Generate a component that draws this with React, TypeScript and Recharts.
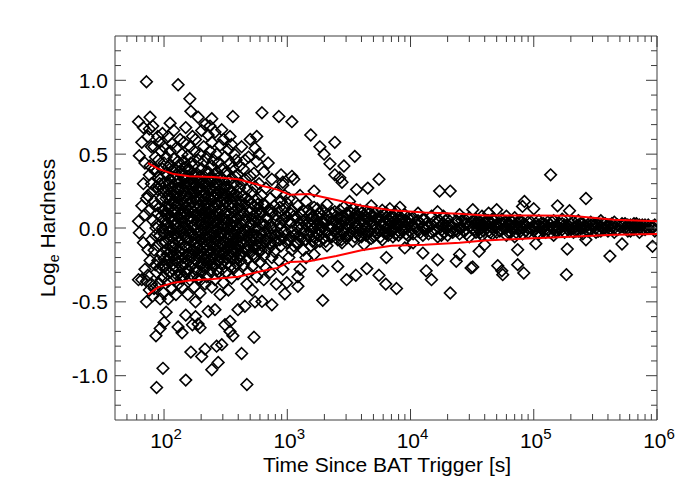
import React from 'react';
import { ScatterChart, Scatter, XAxis, YAxis } from 'recharts';

// ---- Data: [time (s), hardness values at about that time] ----
const earlyColumns: [number, number[]][] = [
  [62, [0.72, 0.045, -0.35]],
  [63, [-0.032, 0.49]],
  [66, [0.58, -0.35, 0.15]],
  [68, [0.68, -0.1, 0.3]],
  [70, [0.09, -0.28, 0.44]],
  [72, [0.99, -0.36, 0.2, -0.5]],
  [74, [-0.147, -0.32, 0.22, 0.62]],
  [76, [0.12, 0.67, -0.42, 0.36]],
  [77, [0.75, 0.42, -0.22]],
  [79, [0.3, -0.08, 0.55, -0.38]],
  [81, [0.69, -0.46, 0.05, 0.25]],
  [83, [0.55, -0.41, 0.18, -0.15, 0.4]],
  [85, [-0.25, 0.15, 0.48, -0.05]],
  [86, [-0.73, 0.38, 0.0]],
  [87, [-1.08, 0.02, -0.3, 0.28]],
  [89, [0.62, -0.12, 0.26, -0.22, 0.1]],
  [90, [-0.38, 0.46, 0.34]],
  [92, [-0.05, 0.14, 0.58, -0.27, 0.3]],
  [93, [-0.68, 0.33, -0.48]],
  [95, [0.08, 0.52, -0.18, 0.2, -0.35]],
  [97, [0.4, -0.1, 0.64, 0.0]],
  [98, [-0.95, -0.02, 0.27]],
  [99, [0.24, -0.44, 0.12, -0.25]],
];

const coreColumns: [number, number[]][] = [
  [100, [0.55, 0.31, 0.12, -0.04, -0.21, -0.33, 0.44, -0.64]],
  [104, [0.48, 0.2, 0.02, -0.15, -0.28, 0.37, -0.57, 0.09]],
  [108, [0.62, 0.26, -0.08, -0.36, 0.41, 0.15, -0.22, -0.48]],
  [112, [0.52, 0.33, 0.06, -0.12, -0.3, 0.19, -0.02, 0.43, 0.71]],
  [116, [0.57, 0.24, -0.06, -0.25, 0.39, 0.11, -0.41, 0.0]],
  [120, [0.47, 0.29, 0.16, -0.1, -0.19, -0.35, 0.05, 0.66]],
  [125, [0.54, 0.36, 0.21, 0.03, -0.14, -0.27, -0.45, 0.1]],
  [130, [0.97, 0.45, 0.27, 0.08, -0.06, -0.23, -0.67, 0.17, -0.38]],
  [135, [0.6, 0.31, 0.13, -0.01, -0.16, -0.3, 0.42, 0.22]],
  [140, [0.5, 0.38, 0.19, 0.04, -0.11, -0.26, -0.71, -0.4]],
  [145, [0.58, 0.25, 0.1, -0.04, -0.2, 0.33, -0.33, 0.45]],
  [150, [0.68, 0.41, 0.28, 0.14, -0.07, -0.24, -1.03, -0.59, 0.0]],
  [156, [0.49, 0.35, 0.2, 0.06, -0.13, -0.29, -0.45, 0.12]],
  [162, [0.875, 0.55, 0.3, 0.16, -0.02, -0.18, -0.35, 0.39, 0.08]],
  [165, [0.79, 0.44, 0.23, -0.09, -0.26, -0.84, 0.04]],
  [170, [0.62, 0.37, 0.18, 0.01, -0.15, -0.32, -0.655, 0.27, -0.05]],
  [176, [0.52, 0.3, 0.11, -0.07, -0.21, -0.4, 0.2, 0.43]],
  [180, [0.6, 0.34, 0.24, 0.09, -0.1, -0.28, -0.6, -0.5]],
  [189, [0.75, 0.46, 0.26, 0.13, -0.03, -0.17, -0.34, -0.65, 0.05]],
  [196, [0.5, 0.32, 0.19, 0.02, -0.12, -0.25, -0.675, -0.44]],
  [202, [0.66, 0.4, 0.22, 0.07, -0.08, -0.2, -0.87, 0.3, -0.3]],
  [210, [0.55, 0.35, 0.15, -0.01, -0.14, -0.27, 0.45, 0.1]],
  [215, [0.7, 0.28, 0.12, -0.05, -0.22, -0.82, -0.38, 0.2]],
  [222, [0.48, 0.31, 0.17, 0.03, -0.11, -0.19, -0.33]],
  [228, [0.63, 0.38, 0.21, 0.06, -0.07, -0.24, -0.565, 0.13]],
  [236, [0.52, 0.26, 0.1, -0.03, -0.16, -0.29, 0.34, 0.69]],
  [244, [0.58, 0.42, 0.19, 0.0, -0.1, -0.21, -0.96, -0.4, 0.74]],
  [252, [0.46, 0.29, 0.14, 0.04, -0.13, -0.26, 0.22]],
  [259, [0.65, 0.33, 0.08, -0.06, -0.18, -0.553, -0.35]],
  [267, [0.5, 0.24, 0.11, -0.02, -0.15, -0.8, 0.38]],
  [275, [0.44, 0.3, 0.16, 0.05, -0.09, -0.23, -0.91, -0.3]],
  [285, [0.56, 0.21, 0.07, -0.04, -0.2, -0.45, 0.35]],
  [294, [0.665, 0.4, 0.27, 0.12, -0.07, -0.12, -0.79, -0.28]],
  [303, [0.6, 0.32, 0.15, 0.02, -0.17, -0.37, 0.2]],
  [312, [0.48, 0.23, 0.06, -0.09, -0.22, -0.655, 0.37]],
  [322, [0.38, 0.18, 0.0, -0.14, -0.3, 0.28, 0.1]],
  [333, [0.53, 0.26, 0.09, -0.05, -0.19, -0.42]],
  [343, [0.62, 0.44, 0.2, 0.03, -0.11, -0.632, -0.7, -0.26]],
  [353, [0.565, 0.34, 0.14, -0.02, -0.16, 0.25, -0.34]],
  [362, [0.755, 0.41, 0.22, 0.07, -0.07, -0.21, -0.73]],
  [372, [0.3, 0.11, -0.04, -0.13, -0.27, 0.5]],
  [385, [0.46, 0.18, 0.02, -0.1, -0.24, 0.29]],
  [398, [0.36, 0.13, -0.01, -0.15, -0.553, -0.31]],
  [410, [0.27, 0.08, -0.06, -0.19, 0.42]],
];

// Extra points filling the dense black core
const coreFillColumns: [number, number[]][] = [
  [102, [0.25, -0.1, 0.05, -0.26]],
  [106, [0.36, 0.1, -0.18, 0.0]],
  [110, [0.3, -0.03, 0.13, -0.2, 0.22]],
  [114, [0.27, 0.08, -0.16, -0.06]],
  [118, [0.34, 0.18, -0.01, -0.13, -0.28]],
  [123, [0.4, 0.12, -0.05, -0.22, 0.24]],
  [128, [0.32, 0.0, 0.15, -0.18, -0.32]],
  [133, [0.25, 0.06, -0.09, -0.2, 0.38]],
  [138, [0.28, 0.1, -0.03, -0.14, -0.34]],
  [143, [0.35, 0.17, 0.0, -0.24, 0.07]],
  [148, [0.22, 0.04, -0.12, -0.3, 0.33]],
  [153, [0.3, 0.09, -0.02, -0.18, 0.18]],
  [159, [0.26, 0.11, -0.08, -0.22, 0.4]],
  [167, [0.33, 0.13, -0.03, -0.19, 0.07]],
  [173, [0.24, 0.06, -0.11, -0.24, 0.36]],
  [178, [0.29, 0.15, -0.01, -0.16, 0.02]],
  [184, [0.37, 0.2, 0.04, -0.13, -0.29]],
  [192, [0.27, 0.08, -0.06, -0.2, 0.15]],
  [199, [0.35, 0.12, -0.02, -0.16, -0.35]],
  [206, [0.26, 0.03, -0.1, 0.18, -0.24]],
  [212, [0.3, 0.07, -0.05, -0.18]],
  [219, [0.23, 0.1, -0.08, -0.27, 0.38]],
  [225, [0.28, 0.01, -0.15, 0.16]],
  [232, [0.2, 0.05, -0.1, -0.22, 0.32]],
  [240, [0.26, 0.12, -0.06, -0.18]],
  [248, [0.33, 0.07, -0.03, -0.2]],
  [256, [0.2, 0.01, -0.1, -0.24, 0.36]],
  [263, [0.16, 0.04, -0.08, 0.27]],
  [271, [0.22, -0.01, -0.12, -0.28]],
  [280, [0.25, 0.1, -0.06, -0.16]],
  [290, [0.18, 0.02, -0.1, -0.24]],
  [298, [0.23, 0.06, -0.03, -0.17]],
  [308, [0.1, -0.05, -0.13, 0.28]],
  [317, [0.17, 0.03, -0.1, -0.2]],
  [327, [0.22, 0.05, -0.07, -0.24]],
  [338, [0.15, -0.01, -0.12, 0.32]],
  [348, [0.1, -0.06, -0.2, 0.24]],
  [358, [0.17, 0.02, -0.1]],
  [367, [0.05, -0.09, 0.2, -0.18]],
  [378, [0.12, -0.02, -0.16, 0.35]],
  [392, [0.06, -0.07, 0.22, -0.2]],
  [404, [0.15, 0.0, -0.12]],
  [418, [0.03, -0.1, 0.18, -0.22]],
  [435, [0.1, -0.05, -0.16]],
  [460, [0.05, -0.09, 0.2]],
  [480, [0.12, -0.02, -0.15]],
  [510, [0.03, -0.08, 0.17]],
  [530, [0.08, -0.05, -0.18]],
  [555, [0.1, 0.0, -0.08]],
  [575, [0.05, -0.12, 0.16]],
  [615, [0.11, -0.04, -0.15]],
  [660, [0.02, -0.1, 0.15]],
  [690, [0.06, -0.06]],
  [740, [0.0, -0.12, 0.12]],
  [800, [0.09, -0.05]],
  [870, [0.03, -0.08, 0.14]],
  [940, [0.06, -0.03]],
];

const midColumns: [number, number[]][] = [
  [426, [-0.85, 0.3, 0.12, -0.03, -0.18, 0.55]],
  [440, [0.22, 0.05, -0.1, -0.25, 0.4]],
  [453, [-0.53, 0.16, -0.02, -0.14, 0.33, 0.46]],
  [470, [-1.06, 0.26, 0.08, -0.06, -0.21, -0.38]],
  [485, [0.19, 0.01, -0.12, 0.48, -0.3]],
  [500, [0.35, 0.11, -0.04, -0.17, 0.6]],
  [520, [0.24, 0.06, -0.09, -0.26, -0.42]],
  [537, [-0.74, 0.15, -0.01, -0.13, 0.37]],
  [547, [-0.5, 0.28, 0.04, -0.2, 0.54]],
  [565, [0.2, -0.05, -0.11, 0.45, -0.33, 0.62]],
  [590, [0.13, 0.0, -0.16, 0.3, 0.5]],
  [605, [0.09, -0.07, -0.23]],
  [623, [-0.497, 0.22, 0.03, -0.12, 0.78]],
  [645, [0.16, -0.03, -0.19, 0.38, -0.35]],
  [670, [0.07, -0.08, 0.27, -0.27]],
  [700, [0.12, -0.02, -0.14, 0.44]],
  [725, [0.2, 0.02, -0.1, -0.3]],
  [750, [-0.52, 0.1, -0.05, 0.33, -0.2]],
  [785, [0.15, -0.01, -0.16]],
  [815, [0.06, -0.09, 0.24, -0.38]],
  [855, [0.755, 0.11, -0.04, -0.22]],
  [890, [0.18, 0.0, -0.12, 0.36]],
  [920, [0.31, 0.29, 0.05, -0.07, -0.28]],
  [955, [-0.445, 0.13, -0.02, 0.22]],
  [990, [-0.37, 0.08, -0.1, 0.17]],
];

const lateColumns: [number, number[]][] = [
  [1030, [0.2, 0.05, -0.08, -0.2]],
  [1090, [0.72, 0.35, 0.12, -0.02, -0.15]],
  [1130, [0.33, 0.08, -0.05, -0.12]],
  [1220, [-0.33, -0.395, 0.15, 0.0, -0.1]],
  [1270, [-0.28, 0.1, 0.03, -0.06, 0.22]],
  [1350, [0.05, -0.03, 0.12, -0.15]],
  [1420, [0.18, 0.02, -0.08, -0.2]],
  [1550, [0.63, 0.1, -0.02, 0.06, -0.12]],
  [1650, [0.14, 0.0, -0.06, 0.25, -0.18]],
  [1750, [0.08, -0.04, 0.02, 0.13]],
  [1840, [0.55, 0.1, -0.01, -0.09]],
  [1940, [-0.49, -0.29, 0.05, 0.0, 0.12]],
  [1990, [0.5, -0.07, 0.03]],
  [2100, [0.09, -0.03, 0.16, -0.12]],
  [2220, [0.435, 0.06, -0.05, 0.01]],
  [2430, [0.58, 0.36, 0.11, -0.02, 0.04]],
  [2570, [-0.26, 0.07, -0.08, 0.0]],
  [2670, [0.34, 0.12, 0.03, -0.05]],
  [2780, [0.31, 0.08, -0.1, 0.02]],
  [2880, [0.42, 0.05, -0.03, 0.14]],
  [3030, [-0.35, 0.1, 0.0, -0.07, 0.06]],
  [3200, [0.03, -0.04, 0.11, 0.18]],
  [3400, [0.07, -0.01, -0.09, 0.13]],
  [3530, [0.485, 0.04, -0.06]],
  [3600, [-0.32, 0.1, 0.02]],
  [3650, [0.26, -0.03, 0.08]],
  [3900, [0.05, 0.12, -0.05, 0.0]],
  [4200, [0.09, -0.02, 0.03, -0.11]],
  [4420, [-0.275, 0.06, 0.0]],
  [4500, [0.27, 0.11, -0.04]],
  [4800, [0.04, -0.07, 0.08, 0.15]],
  [5100, [0.1, 0.01, -0.05]],
  [5550, [0.33, -0.32, 0.06, -0.02]],
  [5900, [0.03, 0.12, -0.08]],
  [6300, [-0.38, 0.07, 0.0]],
  [6370, [-0.2, 0.1, -0.04]],
  [6800, [0.05, -0.02, 0.13]],
  [7200, [0.08, 0.0, -0.06]],
  [7700, [-0.41, 0.04, 0.11]],
  [8200, [0.06, -0.03, 0.02, 0.14]],
  [8980, [-0.135, 0.09, 0.0]],
  [9500, [0.03, -0.05, 0.07]],
];

// Extra points filling the dense band between 10^3 and 10^4 s
const lateFillColumns: [number, number[]][] = [
  [1060, [0.04, -0.06, 0.1]],
  [1180, [0.07, -0.04, -0.1]],
  [1300, [0.0, 0.09, -0.07]],
  [1480, [0.04, -0.05, 0.12]],
  [1600, [0.02, -0.09, 0.08]],
  [1700, [0.06, -0.02, -0.1]],
  [1800, [0.03, 0.1, -0.05]],
  [2050, [0.05, -0.02, -0.09]],
  [2300, [0.1, 0.0, -0.06]],
  [2500, [0.03, 0.08, -0.04]],
  [2750, [0.06, -0.02, -0.08]],
  [3100, [0.02, 0.09, -0.05]],
  [3300, [0.05, -0.03, 0.1]],
  [3750, [0.08, 0.01, -0.04]],
  [4000, [0.04, -0.06, 0.1]],
  [4350, [0.01, 0.07, -0.05]],
  [4650, [0.05, -0.02, 0.1]],
  [5000, [0.03, -0.06, 0.08]],
  [5300, [0.06, 0.0, -0.04]],
  [5700, [0.02, 0.08, -0.06]],
  [6100, [0.04, -0.03, 0.09]],
  [6600, [0.01, 0.06, -0.05]],
  [7000, [0.03, -0.02, 0.08]],
  [7500, [0.05, -0.04, 0.0]],
  [8000, [0.02, 0.07, -0.05]],
  [8600, [0.04, -0.02, 0.06]],
  [9200, [0.01, 0.05, -0.04]],
  [9800, [0.03, -0.02, 0.06]],
];

const tailColumns: [number, number[]][] = [
  [10500, [0.02, -0.04, 0.07, -0.1]],
  [11500, [0.05, -0.02, 0.1]],
  [12600, [-0.17, 0.0, 0.06, -0.05]],
  [13400, [-0.29, 0.03, -0.01]],
  [14800, [-0.35, 0.08, -0.03, 0.02]],
  [16600, [-0.215, 0.04, -0.06, 0.11]],
  [17200, [0.25, 0.0, 0.05]],
  [18500, [0.03, -0.03, 0.08]],
  [20000, [0.06, -0.05, 0.01]],
  [21000, [0.25, -0.44, 0.02, -0.02]],
  [23500, [-0.225, 0.05, -0.01]],
  [25000, [-0.18, 0.09, 0.0, -0.04]],
  [27500, [0.03, -0.02, 0.06]],
  [30000, [0.01, -0.06, 0.07]],
  [31000, [-0.27, 0.04]],
  [32000, [0.124, -0.264, 0.0]],
  [34000, [0.03, -0.03, 0.06]],
  [36000, [-0.158, 0.02, -0.01]],
  [38000, [0.08, 0.0, -0.05]],
  [40000, [-0.113, 0.04, 0.01]],
  [43000, [0.05, -0.02, 0.1]],
  [46000, [0.0, -0.04, 0.06, 0.03]],
  [50000, [0.124, 0.02, -0.03]],
  [51000, [-0.255, 0.01]],
  [55000, [-0.29, 0.06, -0.01]],
  [56000, [-0.316, 0.03]],
  [60000, [0.0, -0.05, 0.08, 0.04]],
  [65000, [0.02, -0.03, 0.05]],
  [70000, [0.07, 0.0, -0.06]],
  [74000, [-0.147, -0.248, 0.03]],
  [78000, [0.01, -0.02, 0.05]],
  [81000, [0.146, 0.0, -0.04]],
  [83000, [-0.305, 0.03]],
  [84000, [0.18, 0.02]],
  [90000, [0.04, -0.03, 0.0]],
  [100000, [0.13, 0.01, -0.02]],
  [104000, [-0.106, 0.03, 0.0]],
  [110000, [0.05, -0.04, 0.02]],
  [120000, [0.0, 0.03, -0.02]],
  [130000, [0.04, -0.01]],
  [137000, [0.36, 0.02, -0.03]],
  [145000, [0.0, 0.05, -0.05]],
  [156000, [0.15, 0.01, -0.02]],
  [170000, [0.03, -0.01, 0.06]],
  [184000, [-0.316, 0.0]],
  [187000, [-0.142, 0.02]],
  [195000, [0.117, -0.02, 0.01]],
  [210000, [0.04, 0.0, -0.03]],
  [230000, [0.02, -0.02, 0.05]],
  [250000, [0.0, 0.03, -0.04]],
  [265000, [0.2, -0.08, 0.01]],
  [290000, [0.02, -0.01, 0.04]],
  [320000, [0.0, 0.03, -0.03]],
  [350000, [0.01, -0.02, 0.05]],
  [380000, [0.03, 0.0]],
  [415000, [-0.19, 0.02, -0.01]],
  [450000, [0.0, 0.04, -0.03]],
  [520000, [-0.108, 0.01, 0.03]],
  [580000, [0.02, -0.02, 0.0]],
  [650000, [0.01, 0.03, -0.01]],
  [720000, [0.0, -0.03, 0.02]],
  [800000, [0.02, -0.01]],
  [920000, [-0.124, 0.0, 0.01]],
];

// Extra points filling the narrow band after 10^4 s
const tailFillColumns: [number, number[]][] = [
  [11000, [0.0, 0.04]],
  [12000, [0.03, -0.03]],
  [13000, [0.06, -0.01]],
  [14000, [0.01, -0.04]],
  [15500, [0.04, -0.02]],
  [17800, [0.02, -0.05]],
  [19200, [0.05, 0.0]],
  [22000, [0.01, -0.03]],
  [24000, [0.04, -0.02]],
  [26000, [0.0, 0.05]],
  [28500, [0.03, -0.04]],
  [33000, [0.05, -0.01]],
  [35000, [0.0, 0.03]],
  [37000, [0.04, -0.03]],
  [39000, [0.02, -0.02]],
  [42000, [0.0, 0.05]],
  [44500, [0.03, -0.03]],
  [48000, [0.01, 0.05]],
  [53000, [0.03, -0.02]],
  [58000, [0.0, 0.04]],
  [62000, [0.02, -0.03]],
  [67000, [0.04, 0.0]],
  [72000, [0.02, -0.03]],
  [76000, [0.05, 0.0]],
  [86000, [0.02, -0.02]],
  [95000, [0.04, 0.0]],
  [107000, [0.01, -0.03]],
  [115000, [0.03, 0.0]],
  [125000, [0.02, -0.03]],
  [140000, [0.04, 0.0]],
  [150000, [0.01, -0.02]],
  [162000, [0.03, 0.0]],
  [178000, [0.02, -0.03]],
  [200000, [0.03, 0.0]],
  [220000, [0.01, -0.02]],
  [240000, [0.03, 0.0]],
  [275000, [0.02, -0.02]],
  [305000, [0.01, 0.03]],
  [335000, [0.02, -0.02]],
  [365000, [0.0, 0.03]],
  [400000, [0.02, -0.02]],
  [430000, [0.01, 0.03]],
  [480000, [0.02, -0.01]],
  [550000, [0.0, 0.03]],
  [610000, [0.02, -0.02]],
  [680000, [0.01, 0.03]],
  [760000, [0.02, -0.01]],
  [850000, [0.0, 0.02]],
  [960000, [0.02, -0.02]],
];

// Red envelope curves
const envelopeTimes = [74, 90, 120, 160, 250, 400, 600, 830, 1050, 1500, 2500, 4000, 7000, 13000, 25000, 40000, 100000, 200000, 450000, 1000000];
const envelopeUpper = [0.44, 0.4, 0.365, 0.35, 0.345, 0.33, 0.29, 0.26, 0.225, 0.23, 0.19, 0.15, 0.12, 0.105, 0.097, 0.085, 0.085, 0.083, 0.056, 0.045];
const envelopeLower = [-0.45, -0.4, -0.37, -0.355, -0.345, -0.33, -0.295, -0.27, -0.23, -0.225, -0.19, -0.15, -0.12, -0.113, -0.1, -0.084, -0.07, -0.06, -0.045, -0.04];

// Axis ticks
const xMajorTicks = [100, 1000, 10000, 100000, 1000000];
const xMajorExponents = ['2', '3', '4', '5', '6'];
const xMinorTicks = [
  50, 60, 70, 80, 90,
  200, 300, 400, 500, 600, 700, 800, 900,
  2000, 3000, 4000, 5000, 6000, 7000, 8000, 9000,
  20000, 30000, 40000, 50000, 60000, 70000, 80000, 90000,
  200000, 300000, 400000, 500000, 600000, 700000, 800000, 900000,
];
const yMajorTicks = [-1.0, -0.5, 0.0, 0.5, 1.0];
const yMajorLabels = ['-1.0', '-0.5', '0.0', '0.5', '1.0'];
const yMinorTicks = [-1.2, -1.1, -0.9, -0.8, -0.7, -0.6, -0.4, -0.3, -0.2, -0.1, 0.1, 0.2, 0.3, 0.4, 0.6, 0.7, 0.8, 0.9, 1.1, 1.2];

const xTitle = 'Time Since BAT Trigger [s]';
const yTitleMain = 'Log';
const yTitleSub = 'e';
const yTitleRest = ' Hardness';

// ---- Build tables ----
const toPoints = (cols: [number, number[]][]) =>
  cols.flatMap(([t, hs]) => hs.map((h) => ({ t, h })));

const scatterData = [
  ...toPoints(earlyColumns),
  ...toPoints(coreColumns),
  ...toPoints(coreFillColumns),
  ...toPoints(midColumns),
  ...toPoints(lateColumns),
  ...toPoints(lateFillColumns),
  ...toPoints(tailColumns),
  ...toPoints(tailFillColumns),
];
const upperData = envelopeTimes.map((t, i) => ({ t, h: envelopeUpper[i] }));
const lowerData = envelopeTimes.map((t, i) => ({ t, h: envelopeLower[i] }));

const xTicksAll = [...xMajorTicks, ...xMinorTicks].sort((a, b) => a - b);
const yTicksAll = [...yMajorTicks, ...yMinorTicks].sort((a, b) => a - b);

const AXIS_COLOR = '#3c3c3c';
const FONT = '"Liberation Sans", Arial, Helvetica, sans-serif';
const MAJOR_LEN = 11;
const MINOR_LEN = 6;

function BottomTick(props: any) {
  const { x, y, payload } = props;
  const i = xMajorTicks.indexOf(payload.value);
  const len = i >= 0 ? MAJOR_LEN : MINOR_LEN;
  return (
    <g>
      <line x1={x} y1={y} x2={x} y2={y - len} stroke={AXIS_COLOR} strokeWidth={1} />
      {i >= 0 && (
        <text x={x + 2} y={y + 28} textAnchor="middle" fontSize={21} fontFamily={FONT} fill="#000">
          10
          <tspan dy={-9.5} fontSize={15}>
            {xMajorExponents[i]}
          </tspan>
        </text>
      )}
    </g>
  );
}

function TopTick(props: any) {
  const { x, y, payload } = props;
  const len = xMajorTicks.indexOf(payload.value) >= 0 ? MAJOR_LEN : MINOR_LEN;
  return <line x1={x} y1={y} x2={x} y2={y + len} stroke={AXIS_COLOR} strokeWidth={1} />;
}

function LeftTick(props: any) {
  const { x, y, payload } = props;
  const i = yMajorTicks.findIndex((v) => Math.abs(v - payload.value) < 1e-9);
  const len = i >= 0 ? MAJOR_LEN : MINOR_LEN;
  return (
    <g>
      <line x1={x} y1={y} x2={x + len} y2={y} stroke={AXIS_COLOR} strokeWidth={1} />
      {i >= 0 && (
        <text x={x - 7} y={y + 7.5} textAnchor="end" fontSize={21} fontFamily={FONT} fill="#000">
          {yMajorLabels[i]}
        </text>
      )}
    </g>
  );
}

function RightTick(props: any) {
  const { x, y, payload } = props;
  const isMajor = yMajorTicks.some((v) => Math.abs(v - payload.value) < 1e-9);
  const len = isMajor ? MAJOR_LEN : MINOR_LEN;
  return <line x1={x} y1={y} x2={x - len} y2={y} stroke={AXIS_COLOR} strokeWidth={1} />;
}

function XTitle() {
  return (
    <text x={387} y={472} textAnchor="middle" fontSize={21} fontFamily={FONT} fill="#000">
      {xTitle}
    </text>
  );
}

function YTitle() {
  return (
    <text
      transform="translate(55, 228) rotate(-90)"
      textAnchor="middle"
      fontSize={21}
      fontFamily={FONT}
      fill="#000"
    >
      {yTitleMain}
      <tspan dy={4} fontSize={14}>
        {yTitleSub}
      </tspan>
      <tspan dy={-4}>{yTitleRest}</tspan>
    </text>
  );
}

function Diamond(props: any) {
  const { cx, cy } = props;
  if (cx == null || cy == null) return <g />;
  const r = 5.8;
  return (
    <path
      d={`M${cx},${cy - r}L${cx + r},${cy}L${cx},${cy + r}L${cx - r},${cy}Z`}
      fill="none"
      stroke="#000"
      strokeWidth={1.6}
    />
  );
}

const NoDot = () => <g />;

export default function App() {
  return (
    <div style={{ position: 'absolute', left: 0, top: 0, width: 692, height: 494, background: '#fff' }}>
      <ScatterChart width={692} height={494} margin={{ top: 26, right: 25, bottom: 44, left: 55 }}>
        <XAxis
          xAxisId="bottom"
          dataKey="t"
          type="number"
          scale="log"
          domain={[40, 1000000]}
          allowDataOverflow
          ticks={xTicksAll}
          interval={0}
          tickSize={0}
          tickMargin={0}
          height={30}
          axisLine={{ stroke: AXIS_COLOR, strokeWidth: 1 }}
          tickLine={false}
          tick={<BottomTick />}
          label={<XTitle />}
        />
        <XAxis
          xAxisId="top"
          orientation="top"
          dataKey="t"
          type="number"
          scale="log"
          domain={[40, 1000000]}
          allowDataOverflow
          ticks={xTicksAll}
          interval={0}
          tickSize={0}
          tickMargin={0}
          height={10}
          axisLine={{ stroke: AXIS_COLOR, strokeWidth: 1 }}
          tickLine={false}
          tick={<TopTick />}
        />
        <YAxis
          yAxisId="left"
          dataKey="h"
          type="number"
          domain={[-1.3, 1.3]}
          allowDataOverflow
          ticks={yTicksAll}
          interval={0}
          tickSize={0}
          tickMargin={0}
          width={60}
          axisLine={{ stroke: AXIS_COLOR, strokeWidth: 1 }}
          tickLine={false}
          tick={<LeftTick />}
          label={<YTitle />}
        />
        <YAxis
          yAxisId="right"
          orientation="right"
          dataKey="h"
          type="number"
          domain={[-1.3, 1.3]}
          allowDataOverflow
          ticks={yTicksAll}
          interval={0}
          tickSize={0}
          tickMargin={0}
          width={10}
          axisLine={{ stroke: AXIS_COLOR, strokeWidth: 1 }}
          tickLine={false}
          tick={<RightTick />}
        />
        <Scatter
          xAxisId="bottom"
          yAxisId="left"
          data={scatterData}
          shape={<Diamond />}
          isAnimationActive={false}
        />
        <Scatter
          xAxisId="top"
          yAxisId="right"
          data={upperData}
          line={{ stroke: '#ff0000', strokeWidth: 2 }}
          lineType="joint"
          shape={<NoDot />}
          isAnimationActive={false}
        />
        <Scatter
          xAxisId="top"
          yAxisId="right"
          data={lowerData}
          line={{ stroke: '#ff0000', strokeWidth: 2 }}
          lineType="joint"
          shape={<NoDot />}
          isAnimationActive={false}
        />
      </ScatterChart>
    </div>
  );
}
